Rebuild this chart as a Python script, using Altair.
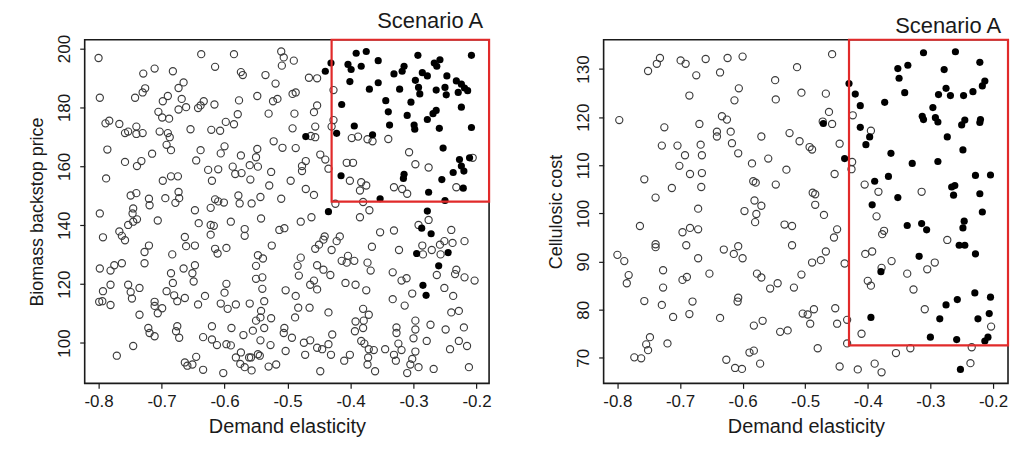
import altair as alt
import pandas as pd

# ---------------- Left panel: Biomass backstop price vs demand elasticity -------------
left_open_x = [
    -0.800, -0.637, -0.585, -0.510, -0.506, -0.509, -0.615, -0.711, -0.729, -0.682,
    -0.665, -0.574, -0.571, -0.535, -0.519, -0.798, -0.742, -0.730, -0.726, -0.698,
    -0.690, -0.673, -0.668, -0.673, -0.661, -0.642, -0.638, -0.633, -0.616, -0.577,
    -0.548, -0.523, -0.516, -0.579, -0.530, -0.705, -0.699, -0.688, -0.789, -0.783,
    -0.767, -0.758, -0.753, -0.740, -0.740, -0.730, -0.703, -0.690, -0.687, -0.654,
    -0.621, -0.607, -0.598, -0.585, -0.522, -0.508, -0.786, -0.692, -0.685, -0.715,
    -0.638, -0.645, -0.600, -0.606, -0.574, -0.548, -0.550, -0.758, -0.739, -0.732,
    -0.626, -0.610, -0.587, -0.583, -0.573, -0.560, -0.547, -0.526, -0.559, -0.620,
    -0.529, -0.788, -0.698, -0.685, -0.674, -0.749, -0.740, -0.720, -0.719, -0.745,
    -0.694, -0.673, -0.672, -0.678, -0.647, -0.615, -0.610, -0.601, -0.622, -0.578,
    -0.576, -0.557, -0.543, -0.510, -0.798, -0.746,
    -0.490, -0.466, -0.453, -0.487, -0.492, -0.453, -0.458, -0.456, -0.489, -0.492,
    -0.427, -0.427, -0.430, -0.456, -0.463, -0.487, -0.448, -0.440, -0.477, -0.471,
    -0.477, -0.495, -0.471, -0.458, -0.435, -0.398, -0.388, -0.373, -0.365, -0.340,
    -0.406, -0.396, -0.401, -0.383, -0.385, -0.375, -0.331, -0.318, -0.310, -0.307,
    -0.297, -0.276, -0.232, -0.206, -0.424, -0.380, -0.370,
    -0.793, -0.767, -0.763, -0.758, -0.753, -0.745, -0.739, -0.706, -0.641, -0.622,
    -0.617, -0.622, -0.590, -0.568, -0.568, -0.542, -0.513, -0.505, -0.663, -0.661,
    -0.647, -0.720, -0.727, -0.727, -0.798, -0.781, -0.775, -0.763, -0.683, -0.615,
    -0.611, -0.597, -0.525, -0.547, -0.539, -0.550, -0.647, -0.665, -0.685, -0.651,
    -0.682, -0.649, -0.781, -0.793, -0.753, -0.749, -0.747, -0.735, -0.799, -0.794,
    -0.781, -0.692, -0.680, -0.675, -0.663, -0.711, -0.711, -0.699, -0.706, -0.735,
    -0.631, -0.642, -0.597, -0.600, -0.606, -0.595, -0.582, -0.560, -0.540, -0.550,
    -0.540, -0.537, -0.542, -0.550, -0.543, -0.526, -0.503, -0.721, -0.719, -0.711,
    -0.675, -0.677, -0.672, -0.620, -0.634, -0.620, -0.589, -0.570, -0.555, -0.537,
    -0.543, -0.527, -0.505, -0.506, -0.612, -0.597, -0.590, -0.745, -0.771, -0.645,
    -0.663, -0.659, -0.651, -0.634, -0.602, -0.582, -0.574, -0.561, -0.558, -0.547,
    -0.544, -0.575, -0.568, -0.557, -0.530, -0.518, -0.503,
    -0.479, -0.462, -0.385, -0.276, -0.292, -0.240, -0.353, -0.331, -0.441, -0.443,
    -0.417, -0.422, -0.450, -0.456, -0.430, -0.366, -0.323, -0.286, -0.285, -0.271,
    -0.257, -0.258, -0.251, -0.238, -0.219, -0.479, -0.484, -0.482, -0.453, -0.443,
    -0.432, -0.414, -0.406, -0.404, -0.394, -0.373, -0.368, -0.464, -0.458, -0.453,
    -0.408, -0.392, -0.375, -0.333, -0.319, -0.311, -0.263, -0.234, -0.232, -0.219,
    -0.203, -0.302, -0.333, -0.314, -0.251, -0.237, -0.487, -0.483, -0.465, -0.488,
    -0.435, -0.380, -0.371, -0.379, -0.392, -0.393, -0.380, -0.429, -0.493, -0.474,
    -0.464, -0.453, -0.445, -0.472, -0.435, -0.431, -0.448, -0.410, -0.401, -0.383,
    -0.378, -0.371, -0.363, -0.372, -0.373, -0.361, -0.345, -0.331, -0.328, -0.324,
    -0.327, -0.327, -0.319, -0.310, -0.305, -0.302, -0.297, -0.300, -0.297, -0.297,
    -0.292, -0.279, -0.273, -0.268, -0.249, -0.242, -0.240, -0.228, -0.228, -0.220,
    -0.215, -0.212,
]
left_open_y = [
    196.8, 198.1, 198.1, 199.0, 197.0, 194.2, 193.8, 193.2, 191.5, 192.3,
    188.5, 192.0, 191.0, 191.0, 188.1, 183.3, 183.3, 185.1, 186.5, 182.1,
    183.9, 186.6, 182.9, 179.3, 180.1, 179.8, 180.7, 182.1, 181.0, 182.4,
    183.9, 182.1, 182.9, 177.7, 177.9, 178.5, 176.6, 176.2, 174.6, 175.5,
    174.4, 171.3, 171.8, 173.5, 171.0, 171.3, 171.8, 171.3, 169.9, 172.6,
    172.4, 172.1, 175.1, 174.3, 168.5, 166.3, 165.7, 167.3, 165.5, 164.3,
    165.5, 162.0, 166.8, 164.4, 163.7, 165.9, 163.1, 161.5, 160.1, 161.8,
    158.8, 159.0, 159.9, 157.4, 157.7, 160.4, 159.9, 158.1, 155.5, 155.1,
    153.5, 155.9, 155.1, 156.6, 156.6, 150.1, 150.9, 149.0, 146.8, 145.7,
    149.2, 151.3, 149.2, 147.6, 145.1, 148.8, 148.1, 147.7, 145.9, 150.1,
    147.4, 147.4, 149.6, 149.0, 144.0, 144.0,
    195.9, 190.1, 189.9, 185.1, 184.6, 180.7, 178.4, 173.5, 177.9, 172.9,
    185.9, 175.7, 173.5, 169.9, 170.3, 166.2, 164.0, 162.3, 160.1, 161.8,
    158.4, 155.1, 152.3, 150.3, 159.2, 169.6, 170.1, 169.2, 168.5, 169.3,
    161.2, 161.2, 155.1, 154.6, 151.8, 153.5, 152.9, 152.3, 150.7, 164.8,
    160.7, 159.6, 152.9, 162.9, 147.3, 147.9, 145.1,
    135.9, 137.9, 136.4, 134.9, 140.1, 141.2, 142.0, 141.6, 140.7, 140.1,
    139.8, 136.8, 141.2, 138.7, 136.4, 142.3, 138.4, 139.0, 136.0, 132.9,
    133.1, 133.1, 130.9, 127.1, 125.3, 124.6, 126.4, 127.1, 130.1, 132.0,
    130.4, 132.3, 133.1, 129.8, 128.7, 126.2, 126.4, 125.3, 123.7, 123.7,
    120.4, 120.9, 119.8, 117.6, 119.8, 117.3, 115.1, 118.7, 114.0, 114.2,
    112.9, 117.6, 116.2, 114.2, 115.3, 114.0, 112.6, 111.8, 110.1, 109.6,
    116.0, 113.1, 120.1, 117.1, 113.4, 111.6, 113.1, 113.4, 122.3, 121.8,
    118.4, 114.2, 110.9, 107.6, 108.7, 108.4, 117.9, 105.1, 103.4, 102.3,
    105.7, 104.0, 101.8, 105.7, 102.0, 101.2, 105.1, 102.7, 104.2, 105.1,
    100.9, 99.3, 105.1, 103.4, 99.3, 99.6, 99.2, 99.0, 95.7, 95.3,
    93.4, 92.3, 92.7, 90.9, 89.8, 95.1, 96.8, 95.1, 95.1, 96.2,
    95.7, 92.9, 91.8, 90.7, 92.0, 92.7, 97.3,
    141.2, 142.7, 142.7, 141.8, 140.1, 138.4, 137.6, 138.2, 136.2, 135.1,
    136.2, 134.6, 133.4, 132.0, 131.6, 132.7, 131.6, 133.1, 130.1, 131.6,
    130.1, 133.4, 134.6, 134.0, 134.6, 129.0, 126.2, 122.9, 126.4, 124.9,
    123.1, 127.9, 127.3, 129.6, 127.9, 127.3, 124.6, 119.8, 121.2, 118.2,
    120.4, 119.8, 117.9, 124.0, 121.2, 122.0, 123.1, 123.4, 124.9, 122.3,
    121.2, 116.8, 114.9, 112.7, 118.7, 116.0, 116.0, 112.0, 112.0, 108.7,
    110.4, 111.6, 109.6, 107.6, 107.3, 104.0, 105.1, 102.9, 101.8, 100.1,
    100.9, 98.4, 97.9, 96.0, 99.6, 96.0, 90.4, 94.0, 96.0, 100.7,
    99.8, 97.9, 97.6, 95.1, 92.7, 90.4, 97.9, 96.0, 94.0, 99.8,
    103.4, 105.3, 97.6, 89.8, 92.7, 94.6, 97.1, 101.6, 104.6, 107.6,
    91.8, 100.7, 106.2, 91.2, 104.6, 97.9, 110.4, 110.9, 100.7, 105.3,
    99.0, 91.8,
]
left_filled_x = [
    -0.391, -0.375, -0.404, -0.399, -0.383, -0.356, -0.431, -0.440, -0.293, -0.267,
    -0.258, -0.263, -0.208, -0.315, -0.331, -0.318, -0.286, -0.278, -0.297, -0.247,
    -0.232, -0.224, -0.219, -0.214, -0.229, -0.250, -0.264, -0.248, -0.292, -0.290,
    -0.322, -0.356, -0.370, -0.401, -0.344, -0.414, -0.304, -0.340, -0.310, -0.264,
    -0.269, -0.278, -0.224, -0.394, -0.338, -0.299, -0.298, -0.259, -0.208, -0.422,
    -0.365, -0.471, -0.253, -0.211, -0.227, -0.224, -0.237, -0.220, -0.315, -0.316,
    -0.415, -0.255, -0.221, -0.276, -0.353, -0.250, -0.278, -0.435,
    -0.287, -0.272, -0.295, -0.245, -0.260, -0.285, -0.280,
]
left_filled_y = [
    198.4, 199.0, 194.6, 192.9, 194.0, 195.9, 195.1, 192.3, 197.7, 195.1,
    196.2, 194.0, 197.7, 194.0, 191.4, 192.3, 191.8, 190.7, 189.2, 190.7,
    189.0, 187.9, 186.6, 185.7, 185.1, 186.8, 185.9, 184.3, 186.8, 184.6,
    186.2, 188.4, 186.2, 188.8, 182.3, 181.0, 181.8, 178.5, 177.3, 179.0,
    177.9, 175.9, 180.1, 173.7, 174.0, 174.0, 172.6, 172.9, 173.2, 171.2,
    170.7, 170.1, 166.2, 162.9, 162.3, 160.1, 157.9, 158.4, 157.3, 155.9,
    156.8, 155.5, 152.6, 151.2, 149.0, 148.4, 144.8, 144.6,
    139.0, 137.1, 130.4, 130.7, 126.2, 119.6, 116.2,
]
left_box_x = [-0.43, -0.18]
left_box_y = [148.0, 203.0]

# ---------------- Right panel: Cellulosic cost vs demand elasticity -------------
right_open_x = [
    -0.797, -0.751, -0.737, -0.732, -0.699, -0.691, -0.659, -0.674, -0.624, -0.600,
    -0.636, -0.685, -0.606, -0.613, -0.548, -0.547, -0.633, -0.625, -0.725, -0.669,
    -0.641, -0.641, -0.619, -0.570, -0.525, -0.729, -0.704, -0.692, -0.667, -0.665,
    -0.617, -0.607, -0.701, -0.684, -0.665, -0.585, -0.559, -0.530, -0.757, -0.713,
    -0.666, -0.583, -0.579, -0.547, -0.739, -0.671, -0.581, -0.570, -0.597, -0.578,
    -0.457, -0.513, -0.506, -0.467, -0.462, -0.472, -0.457, -0.509, -0.493, -0.489,
    -0.445, -0.453, -0.425, -0.426, -0.488, -0.484, -0.484, -0.470, -0.424, -0.395,
    -0.405, -0.383, -0.314, -0.386,
    -0.764, -0.800, -0.789, -0.782, -0.785, -0.739, -0.739, -0.757, -0.727, -0.727,
    -0.729, -0.773, -0.762, -0.748, -0.754, -0.751, -0.720, -0.711, -0.696, -0.684,
    -0.671, -0.690, -0.671, -0.696, -0.689, -0.680, -0.685, -0.653, -0.630, -0.614,
    -0.607, -0.600, -0.607, -0.608, -0.636, -0.626, -0.612, -0.601, -0.589, -0.582,
    -0.572, -0.582, -0.568, -0.577, -0.570, -0.580, -0.556, -0.544, -0.540, -0.528,
    -0.533,
    -0.521, -0.521, -0.449, -0.454, -0.467, -0.475, -0.489, -0.506, -0.518, -0.437,
    -0.374, -0.377, -0.404, -0.393, -0.362, -0.378, -0.400, -0.395, -0.337, -0.327,
    -0.305, -0.293, -0.273, -0.504, -0.496, -0.486, -0.492, -0.452, -0.449, -0.433,
    -0.433, -0.410, -0.480, -0.445, -0.416, -0.389, -0.378, -0.355, -0.332, -0.309,
    -0.234, -0.236, -0.203,
]
right_open_y = [
    119.4, 129.6, 131.1, 132.3, 131.8, 131.1, 132.1, 128.7, 132.3, 132.6,
    129.3, 124.5, 126.0, 123.5, 127.7, 123.7, 120.2, 119.5, 117.9, 118.6,
    117.0, 116.0, 117.0, 116.0, 116.7, 114.1, 114.1, 112.1, 114.3, 112.1,
    114.6, 112.5, 109.9, 108.2, 108.4, 110.4, 111.4, 109.1, 107.1, 105.3,
    105.5, 106.7, 106.4, 106.0, 103.3, 101.0, 102.7, 101.6, 100.5, 99.9,
    133.1, 130.4, 125.1, 124.9, 121.1, 119.1, 118.6, 115.0, 113.8, 113.3,
    114.5, 108.2, 110.7, 109.2, 104.3, 104.0, 101.8, 99.7, 120.4, 117.2,
    106.0, 104.5, 104.5, 99.4,
    97.4, 91.4, 90.1, 87.2, 85.5, 93.6, 93.0, 81.8, 88.2, 84.6,
    81.0, 70.1, 69.9, 74.3, 72.8, 71.6, 73.0, 78.5, 96.1, 97.0,
    96.7, 93.4, 90.7, 86.2, 86.8, 81.7, 79.1, 87.5, 92.5, 91.6,
    93.2, 90.7, 82.5, 81.7, 78.3, 69.6, 67.9, 67.7, 71.1, 71.5,
    68.8, 76.7, 77.7, 87.5, 86.7, 98.2, 84.4, 85.5, 75.4, 75.7,
    97.7,
    97.4, 93.4, 96.7, 95.0, 92.1, 90.3, 89.8, 87.3, 84.6, 89.6,
    96.4, 95.7, 91.6, 92.1, 90.1, 88.7, 86.0, 85.0, 87.5, 84.2,
    88.4, 89.8, 94.5, 79.2, 79.0, 80.1, 77.1, 80.3, 77.1, 77.9,
    73.0, 75.0, 72.0, 68.2, 67.6, 68.8, 67.0, 71.0, 72.0, 80.1,
    72.2, 68.9, 76.5,
]
right_filled_x = [
    -0.471, -0.437, -0.430, -0.373,
    -0.311, -0.260, -0.221, -0.352, -0.336, -0.278, -0.350, -0.341, -0.420, -0.412,
    -0.412, -0.397, -0.403, -0.213, -0.217, -0.232, -0.247, -0.268, -0.287, -0.275,
    -0.296, -0.313, -0.311, -0.292, -0.288, -0.245, -0.250, -0.220, -0.221, -0.273,
    -0.248, -0.363, -0.329, -0.288, -0.367, -0.389, -0.352, -0.393, -0.228, -0.204,
    -0.266, -0.261, -0.263, -0.221, -0.217,
    -0.337, -0.314, -0.306, -0.246, -0.248, -0.254, -0.245, -0.228, -0.318, -0.379,
    -0.229, -0.204, -0.257, -0.275, -0.285, -0.224, -0.206, -0.395, -0.300, -0.258,
    -0.208, -0.213, -0.252,
]
right_filled_y = [
    118.7, 111.4, 127.0, 123.1,
    133.4, 133.6, 131.4, 130.1, 130.8, 129.9, 128.1, 125.1, 124.8, 122.4,
    117.9, 115.9, 114.3, 127.5, 126.5, 125.3, 124.5, 124.5, 124.7, 126.0,
    122.0, 120.2, 119.5, 119.9, 119.0, 119.4, 118.4, 119.5, 118.9, 115.9,
    113.2, 112.5, 110.4, 110.8, 107.7, 106.7, 103.3, 101.8, 107.9, 108.0,
    105.5, 105.8, 103.8, 104.1, 100.3,
    97.5, 97.9, 96.6, 98.4, 97.0, 93.4, 93.4, 91.6, 91.1, 87.9,
    83.5, 82.6, 82.1, 81.0, 78.1, 78.1, 79.2, 78.4, 74.3, 73.8,
    74.3, 73.5, 67.6,
]
right_box_x = [-0.43, -0.176]
right_box_y = [72.6, 136.1]

x_ticks = [-0.8, -0.7, -0.6, -0.5, -0.4, -0.3, -0.2]
left_y_ticks = [100, 120, 140, 160, 180, 200]
right_y_ticks = [70, 80, 90, 100, 110, 120, 130]

FONT = "Liberation Sans"
INK = "#1a1a1a"
POINT = "#3c3c3c"
RED = "#e12a2a"


def panel(open_x, open_y, fill_x, fill_y, box_x, box_y, xdom, ydom, yticks, ytitle):
    pts = pd.DataFrame({
        "x": list(open_x) + list(fill_x),
        "y": list(open_y) + list(fill_y),
        "kind": ["open"] * len(open_x) + ["filled"] * len(fill_x),
    })
    box = pd.DataFrame({"x0": [box_x[0]], "x1": [box_x[1]], "y0": [box_y[0]], "y1": [box_y[1]]})

    xscale = alt.Scale(domain=xdom, nice=False, zero=False)
    yscale = alt.Scale(domain=ydom, nice=False, zero=False)
    xaxis = alt.Axis(
        values=x_ticks,
        labelExpr="replace(format(datum.value, '.1f'), '\u2212', '-')",
        title="Demand elasticity",
        titlePadding=7,
        labelPadding=5,
    )
    yaxis = alt.Axis(
        values=yticks,
        labelAngle=270,
        labelAlign="center",
        labelBaseline="bottom",
        labelPadding=6,
        title=ytitle,
        titlePadding=9,
    )

    opens = alt.Chart(pts).transform_filter(alt.datum.kind == "open").mark_point(
        shape="circle", filled=False, size=52, strokeWidth=1.15, color=POINT, opacity=1
    ).encode(
        x=alt.X("x:Q", scale=xscale, axis=xaxis),
        y=alt.Y("y:Q", scale=yscale, axis=yaxis),
    )
    fills = alt.Chart(pts).transform_filter(alt.datum.kind == "filled").mark_point(
        shape="circle", filled=True, size=52, color="#000000", opacity=1
    ).encode(x="x:Q", y="y:Q")
    rect = alt.Chart(box).mark_rect(
        fillOpacity=0, stroke=RED, strokeWidth=2.2
    ).encode(x="x0:Q", x2="x1:Q", y="y0:Q", y2="y1:Q")

    return alt.layer(opens, fills, rect).properties(
        width=406,
        height=345,
        title=alt.TitleParams(
            "Scenario A", anchor="end", fontSize=22, fontWeight="normal",
            font=FONT, color=INK, offset=1, dx=-8
        ),
    )


left = panel(left_open_x, left_open_y, left_filled_x, left_filled_y,
             left_box_x, left_box_y, [-0.822, -0.18], [86.3, 203.0],
             left_y_ticks, "Biomass backstop price")
right = panel(right_open_x, right_open_y, right_filled_x, right_filled_y,
              right_box_x, right_box_y, [-0.822, -0.176], [64.7, 136.1],
              right_y_ticks, "Cellulosic cost")

chart = alt.hconcat(left, right, spacing=55).resolve_scale(
    x="independent", y="independent"
).properties(
    padding={"left": 20, "top": 0, "right": 0, "bottom": 0}
).configure_view(
    stroke=INK, strokeWidth=1.6
).configure_axis(
    domain=False, grid=False, tickSize=5, tickWidth=1.2, tickColor=INK,
    labelFont=FONT, labelFontSize=17, labelColor=INK,
    titleFont=FONT, titleFontWeight="normal", titleColor=INK,
).configure_axisX(
    titleFontSize=20
).configure_axisY(
    titleFontSize=18
)

chart.save("out.html", embed_options={"renderer": "svg", "actions": False})
